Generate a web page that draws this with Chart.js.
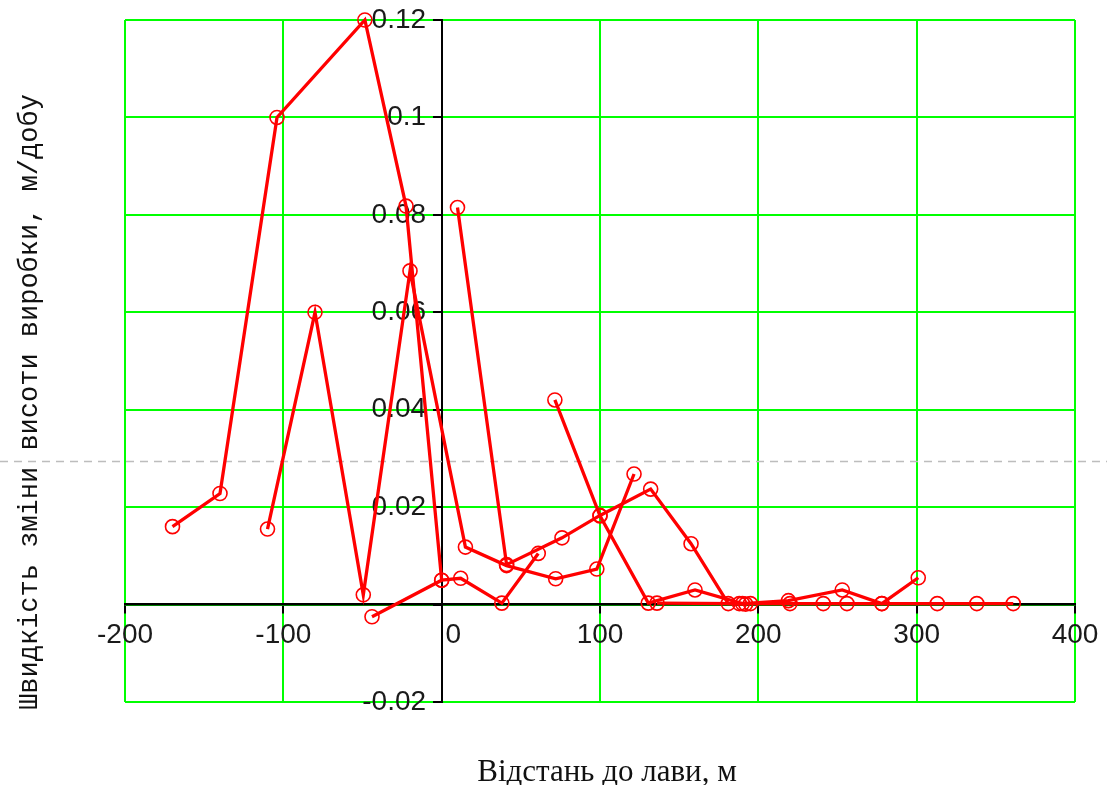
<!DOCTYPE html>
<html><head><meta charset="utf-8">
<script src="https://cdn.jsdelivr.net/npm/chart.js@4.4.1/dist/chart.umd.min.js"></script>
<style>html,body{margin:0;padding:0;background:#fff;}canvas{display:block;}</style>
</head><body>
<canvas id="c" width="1107" height="785"></canvas>
<script>
// ---- data ----
const xTickValues = [-200, -100, 0, 100, 200, 300, 400];
const yTickValues = [-0.02, 0, 0.02, 0.04, 0.06, 0.08, 0.1, 0.12];

const s1X = [-170, -140, -104, -48.5, -22.5, 0];
const s1Y = [0.016, 0.0228, 0.1, 0.12, 0.0818, 0.005];

const s2X = [-110, -80, -49.5, -20, 15, 41, 72, 98, 121.5];
const s2Y = [0.0155, 0.06, 0.002, 0.0685, 0.0118, 0.008, 0.0053, 0.0073, 0.0268];

const s3X = [-44, 0, 12, 38, 61];
const s3Y = [-0.0025, 0.005, 0.0054, 0.0003, 0.0105];

const s4X = [10, 41, 76, 100, 132, 157.5, 181, 192];
const s4Y = [0.0815, 0.0082, 0.0137, 0.0183, 0.0237, 0.0125, 0.0002, 0.0001];

const s5X = [71.5, 100, 130.5, 160, 190, 219, 253, 278, 301];
const s5Y = [0.042, 0.0182, 0.0003, 0.003, 0.0002, 0.0008, 0.003, 0.0002, 0.0055];

const s6X = [136, 188, 195, 220, 241, 256, 278, 313, 338, 361];
const s6Y = [0.0003, 0.0002, 0.0002, 0.0002, 0.0002, 0.0002, 0.0002, 0.0002, 0.0002, 0.0002];

const guideValue = 0.0295;
const xTitle = 'Відстань до лави, м';
const yTitle = 'Швидкість зміни висоти виробки, м/добу';

// ---- chart ----
const RED = '#ff0000';
const GREEN = '#00ff00';
const tickFont = {family: '"Liberation Sans Narrow", "Liberation Sans", Arial, sans-serif', size: 28};

function pts(xs, ys) { return xs.map((x, i) => ({x: x, y: ys[i]})); }
const series = [[s1X, s1Y], [s2X, s2Y], [s3X, s3Y], [s4X, s4Y], [s5X, s5Y], [s6X, s6Y]];
const datasets = series.map(([xs, ys]) => ({
  data: pts(xs, ys),
  showLine: true,
  borderColor: RED,
  borderWidth: 3.3,
  pointRadius: 7,
  pointHoverRadius: 7,
  pointBorderWidth: 1.6,
  pointBorderColor: RED,
  pointBackgroundColor: 'rgba(0,0,0,0)',
  pointStyle: 'circle',
  tension: 0,
  clip: false
}));

function zeroPad(scale) {
  scale.paddingTop = 0; scale.paddingBottom = 0;
  scale.paddingLeft = 0; scale.paddingRight = 0;
}

const deco = {
  id: 'deco',
  beforeDatasetsDraw(chart) {
    const ctx = chart.ctx;
    const y = Math.round(chart.scales.y.getPixelForValue(guideValue)) + 0.5;
    ctx.save();
    ctx.strokeStyle = '#bdbdbd';
    ctx.lineWidth = 1.5;
    ctx.setLineDash([8, 6]);
    ctx.beginPath();
    ctx.moveTo(0, y);
    ctx.lineTo(chart.width, y);
    ctx.stroke();
    ctx.restore();
  },
  afterDraw(chart) {
    const ctx = chart.ctx, a = chart.chartArea;
    ctx.save();
    ctx.fillStyle = '#111';
    ctx.textAlign = 'center';
    ctx.textBaseline = 'middle';
    ctx.font = '31px "Liberation Serif", "Times New Roman", serif';
    ctx.fillText(xTitle, (a.left + a.right) / 2 + 7, a.bottom + 71);
    ctx.translate(a.left - 95, a.top + 382);
    ctx.rotate(-Math.PI / 2);
    ctx.font = '27px "Liberation Mono", "Courier New", monospace';
    ctx.fillText(yTitle, 0, 0);
    ctx.restore();
  }
};

new Chart(document.getElementById('c'), {
  type: 'scatter',
  data: {datasets: datasets},
  plugins: [deco],
  options: {
    responsive: false,
    animation: false,
    devicePixelRatio: 1,
    layout: {padding: {left: 125, right: 32, top: 20, bottom: 83}},
    plugins: {legend: {display: false}, tooltip: {enabled: false}},
    scales: {
      x: {
        type: 'linear',
        min: -200, max: 400,
        position: {y: 0},
        afterBuildTicks: s => { s.ticks = xTickValues.map(v => ({value: v})); },
        afterFit: zeroPad,
        grid: {color: GREEN, lineWidth: 2, drawTicks: true, tickLength: 8, tickColor: '#000', tickWidth: 2},
        border: {display: true, color: '#000', width: 2.5},
        ticks: {
          font: tickFont, color: '#1a1a1a', padding: 6, maxRotation: 0, autoSkip: false,
          callback: v => (v === 0 ? '   0' : String(v))
        }
      },
      y: {
        type: 'linear',
        min: -0.02, max: 0.12,
        position: {x: 0},
        afterBuildTicks: s => { s.ticks = yTickValues.map(v => ({value: v})); },
        afterFit: zeroPad,
        grid: {color: GREEN, lineWidth: 2, drawTicks: true, tickLength: 8, tickColor: '#000', tickWidth: 2},
        border: {display: true, color: '#000', width: 2},
        ticks: {
          font: tickFont, color: '#1a1a1a', padding: 6, autoSkip: false,
          callback: v => (Math.abs(v) < 1e-9 ? '' : String(+v.toFixed(2)) + '  ')
        }
      }
    }
  }
});
</script>
</body></html>
